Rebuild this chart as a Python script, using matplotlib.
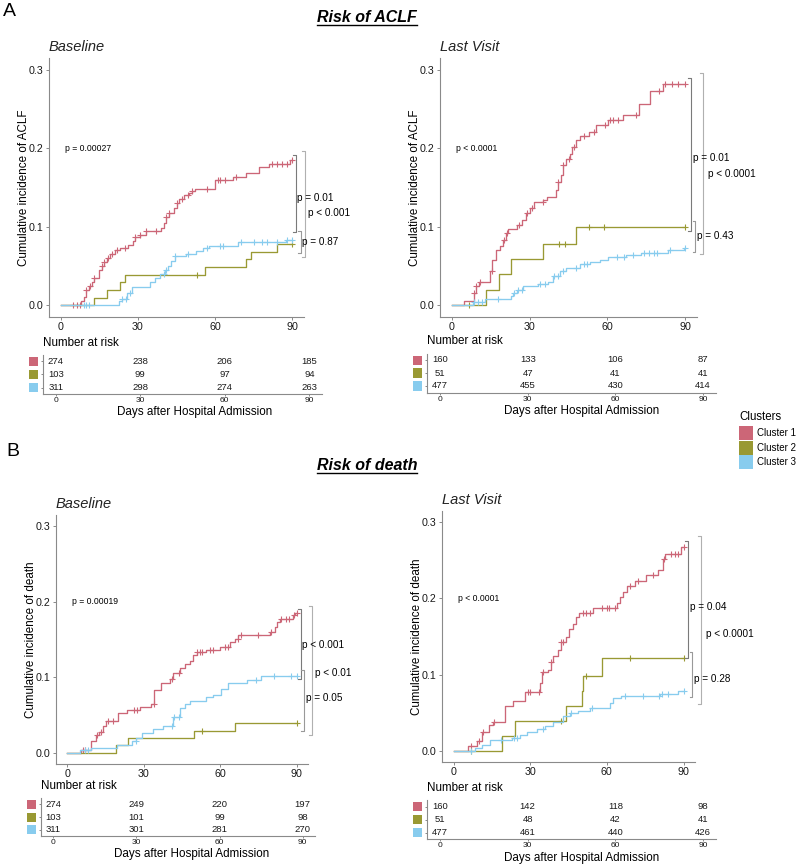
import numpy as np
import matplotlib
matplotlib.use("Agg")
import matplotlib.pyplot as plt
from matplotlib.patches import Rectangle
from matplotlib.lines import Line2D

plt.rcParams['font.family'] = ['Liberation Sans', 'DejaVu Sans']

# ----- data -----
clusters = ['Cluster 1', 'Cluster 2', 'Cluster 3']
colors = ['#CC6677', '#999933', '#88CCEE']
risk_days = [0, 30, 60, 90]

# A - ACLF, baseline
a_base_c1_t = [0, 8, 9, 10, 11, 12, 13, 15, 16, 17, 18, 19, 21, 23, 26, 28, 29, 31, 33, 39, 40, 41, 42, 44,
               45, 46, 48, 50, 51, 52, 60, 67, 72, 77, 81, 89]
a_base_c1_y = [0, 0.005, 0.01, 0.02, 0.025, 0.03, 0.035, 0.045, 0.05, 0.055, 0.06, 0.065, 0.07, 0.073, 0.077,
               0.082, 0.087, 0.09, 0.094, 0.099, 0.105, 0.112, 0.118, 0.124, 0.13, 0.135, 0.14, 0.143, 0.146,
               0.148, 0.159, 0.163, 0.168, 0.176, 0.18, 0.185]
a_base_c1_cens = [5, 6.5, 7.5, 10, 11.5, 13, 16, 17, 18.5, 20, 22, 25, 29, 31, 33, 37, 41, 42, 45, 47, 49.5, 51,
                  57, 61, 62, 64, 68, 82, 84, 86, 88, 90]
a_base_c2_t = [0, 13, 18, 23, 25, 56, 72, 74, 84]
a_base_c2_y = [0, 0.0097, 0.0194, 0.0291, 0.0388, 0.0485, 0.0583, 0.068, 0.078]
a_base_c2_cens = [53, 90]
a_base_c3_t = [0, 22.7, 24, 25.6, 27.6, 34.6, 36.6, 38.5, 40.4, 41.7, 43, 44.3, 48.8, 52.7, 55.2, 57.8, 68.8, 87.4]
a_base_c3_y = [0, 0.005, 0.008, 0.016, 0.023, 0.029, 0.035, 0.04, 0.045, 0.05, 0.056, 0.063, 0.065, 0.069,
               0.073, 0.076, 0.08, 0.083]
a_base_c3_cens = [9, 10, 11, 24, 25.5, 27, 40, 41, 44.5, 49.5, 57, 62, 63, 70, 75, 78, 80, 84, 88, 90]
a_base_risk = [[274, 238, 206, 185], [103, 99, 97, 94], [311, 298, 274, 263]]

# A - ACLF, last visit
a_last_c1_t = [0, 4.9, 8.6, 9.3, 10.6, 14.7, 15.7, 17, 18.6, 19.8, 20.9, 21.8, 25, 26.9, 28.8, 30.1, 31.7, 35.2,
               36.9, 40.3, 41, 42, 42.9, 44.2, 45.7, 46.5, 48, 49.3, 52.9, 55.7, 60.2, 65.9, 72.1, 76.4, 81.3]
a_last_c1_y = [0, 0.005, 0.016, 0.025, 0.03, 0.043, 0.058, 0.07, 0.075, 0.083, 0.092, 0.097, 0.102, 0.109,
               0.117, 0.124, 0.131, 0.134, 0.138, 0.147, 0.157, 0.166, 0.179, 0.186, 0.193, 0.202, 0.21, 0.215,
               0.221, 0.229, 0.236, 0.243, 0.257, 0.273, 0.282]
a_last_c1_cens = [8.6, 9.5, 11, 15.5, 20, 21.5, 26, 29, 31, 35, 41, 43, 45, 47, 51, 55, 59, 61, 62, 64, 71, 80,
                  82, 85, 87, 90]
a_last_c2_t = [0, 13.1, 18.2, 23, 35, 47.8]
a_last_c2_y = [0, 0.0196, 0.0392, 0.0588, 0.0784, 0.1]
a_last_c2_cens = [6.8, 41.5, 43.5, 52.8, 58.5, 90]
a_last_c3_t = [0, 8.1, 12.8, 23, 23.7, 25, 27.5, 33.3, 37.1, 39, 41.6, 44.2, 49.3, 53.1, 57, 60.2, 67.2, 73,
               83.2, 89.6]
a_last_c3_y = [0, 0.004, 0.008, 0.012, 0.016, 0.02, 0.024, 0.027, 0.03, 0.037, 0.043, 0.047, 0.052, 0.055,
               0.058, 0.062, 0.064, 0.067, 0.07, 0.073]
a_last_c3_cens = [8.5, 10, 11.5, 18, 24, 25.5, 27, 34, 36, 39.5, 41, 43, 48, 51, 52, 63.5, 66.5, 70, 74, 76, 78,
                  79, 84, 90]
a_last_risk = [[160, 133, 106, 87], [51, 47, 41, 41], [477, 455, 430, 414]]

# B - death, baseline
b_base_c1_t = [0, 5.5, 9.4, 11.1, 12.4, 13.8, 15.3, 19.9, 23.2, 28.4, 33, 34.1, 36.9, 40.2, 41.5, 44.2, 46.1,
               48.1, 49.4, 50.7, 54.6, 59.9, 63.8, 65.8, 67.1, 79.5, 81.5, 82.5, 83.5, 88.7, 89.5]
b_base_c1_y = [0, 0.003, 0.015, 0.023, 0.027, 0.036, 0.042, 0.052, 0.056, 0.061, 0.065, 0.083, 0.092, 0.098,
               0.105, 0.112, 0.117, 0.122, 0.129, 0.133, 0.136, 0.14, 0.147, 0.151, 0.156, 0.16, 0.167, 0.173,
               0.177, 0.182, 0.185]
b_base_c1_cens = [6, 7, 11.5, 13, 16, 18, 26, 27.5, 34, 41, 44, 51, 52, 53, 56, 57, 62, 63, 67, 68, 75, 80, 84,
                  86, 87, 89, 90]
b_base_c2_t = [0, 18.9, 23.8, 49.8, 66]
b_base_c2_y = [0, 0.0097, 0.0194, 0.0291, 0.0388]
b_base_c2_cens = [53, 90]
b_base_c3_t = [0, 4.8, 9.4, 19.3, 25.2, 27.1, 29.1, 33.7, 37.6, 41.5, 44.2, 46.1, 48.1, 54.6, 57.3, 60.5, 63.1,
               70.4, 76.2]
b_base_c3_y = [0, 0.003, 0.006, 0.01, 0.016, 0.019, 0.026, 0.031, 0.036, 0.047, 0.059, 0.064, 0.068, 0.074,
               0.077, 0.084, 0.092, 0.096, 0.101]
b_base_c3_cens = [7, 8, 27, 41, 42, 44, 74, 81, 88, 90]
b_base_risk = [[274, 249, 220, 197], [103, 101, 99, 98], [311, 301, 281, 270]]

# B - death, last visit
b_last_c1_t = [0, 5.7, 9.3, 11.3, 14, 15.3, 20.1, 23.1, 27.9, 33.8, 34.7, 37, 38, 39, 41, 42, 44.2, 45.1, 46.8,
               48.1, 49.2, 54.7, 63.8, 65.1, 66.4, 67.7, 71, 75.5, 80.1, 82, 82.7, 89.2]
b_last_c1_y = [0, 0.0066, 0.012, 0.025, 0.033, 0.038, 0.058, 0.065, 0.077, 0.089, 0.103, 0.106, 0.117, 0.124,
               0.132, 0.143, 0.15, 0.16, 0.166, 0.175, 0.181, 0.188, 0.194, 0.202, 0.209, 0.216, 0.223, 0.231,
               0.237, 0.252, 0.259, 0.268]
b_last_c1_cens = [7, 10, 11.5, 16, 29, 30, 33.5, 35, 38, 42, 43, 50.5, 52, 53.5, 58, 60, 61, 63, 69, 72, 78,
                  82.5, 85, 86.5, 88, 90]
b_last_c2_t = [0, 19, 24, 44.2, 50.1, 50.7, 58.2]
b_last_c2_y = [0, 0.0196, 0.0392, 0.0588, 0.0784, 0.098, 0.1216]
b_last_c2_cens = [6.8, 42, 51.7, 69, 90]
b_last_c3_t = [0, 8.3, 11, 14.2, 22.7, 26, 28.6, 32.5, 35.7, 39, 42.9, 45.5, 48.8, 53.3, 61.2, 62.5, 65.7,
               80.7, 87.9]
b_last_c3_y = [0, 0.0035, 0.008, 0.014, 0.017, 0.021, 0.024, 0.028, 0.032, 0.038, 0.045, 0.049, 0.052, 0.056,
               0.063, 0.069, 0.072, 0.075, 0.078]
b_last_c3_cens = [7, 18.5, 23.5, 25, 35, 46, 54, 67, 74, 80.5, 81.5, 84, 90]
b_last_risk = [[160, 142, 118, 98], [51, 48, 42, 41], [477, 461, 440, 426]]

# ----- figure, laid out in pixels -----
W, H = 798, 865
fig = plt.figure(figsize=(W / 100, H / 100), dpi=100)
AXIS_GREY = '#8a8a8a'


def px_rect(l, t, r, b):
    return [l / W, 1 - b / H, (r - l) / W, (b - t) / H]


def fig_text(x, y, s, **kw):
    return fig.text(x / W, 1 - y / H, s, **kw)


def style_axis(ax, tick_len=2.2, tick_pad=1.5):
    for side in ['top', 'right']:
        ax.spines[side].set_visible(False)
    for side in ['left', 'bottom']:
        ax.spines[side].set_color(AXIS_GREY)
        ax.spines[side].set_linewidth(0.8)
    ax.tick_params(color=AXIS_GREY, length=tick_len, width=0.7, pad=tick_pad, labelcolor='#1a1a1a')


def draw_panel(box, curves, pval, brackets, ylabel, subtitle):
    l, t, r, b = box
    ax = fig.add_axes(px_rect(l, t, r, b))
    for (times, vals, cens), col in zip(curves, colors):
        tt = np.append(times, 90)
        vv = np.append(vals, vals[-1])
        ax.step(tt, vv, where='post', color=col, lw=0.95)
        idx = np.searchsorted(tt, cens, side='right') - 1
        ax.plot(cens, vv[idx], ls='none', marker='+', ms=4.8, mew=0.8, color=col)
    ax.set_xlim(-4.5, 94.5)
    ax.set_ylim(-0.015, 0.315)
    ax.set_xticks([0, 30, 60, 90])
    ax.set_yticks([0, 0.1, 0.2, 0.3])
    ax.set_yticklabels(['0.0', '0.1', '0.2', '0.3'])
    ax.tick_params(labelsize=7.7)
    style_axis(ax)
    ax.set_ylabel(ylabel, fontsize=8.4)
    ax.yaxis.set_label_coords(-19 / (r - l), 0.5)
    ax.text(pval[0], pval[1], pval[2], fontsize=6.2, ha='left', va='center')
    for bx, y0, y1, lab, lx, ly, col in brackets:
        ax.plot([bx - 1.1, bx, bx, bx - 1.1], [y0, y0, y1, y1], color=col, lw=0.8, clip_on=False)
        ax.text(lx, ly, lab, fontsize=7.2, ha='left', va='center', clip_on=False)
    fig_text(l, t - 11, subtitle, fontsize=10.5, style='italic', color='#222222', ha='left', va='center')
    return ax


def draw_table(box, counts, days_x):
    l, t, r, b = box
    tab = fig.add_axes(px_rect(l, t, r, b))
    for row, (vals, col) in enumerate(zip(counts, colors)):
        yy = 3 - row
        for d, n in zip(risk_days, vals):
            tab.text(d, yy, str(n), ha='center', va='center', fontsize=6.8, color='#1a1a1a')
        ypx = t + (3.5 - yy) / 3 * (b - t)
        fig.add_artist(Rectangle(((l - 14) / W, 1 - (ypx + 4.5) / H), 9 / W, 9 / H,
                                 transform=fig.transFigure, facecolor=col, edgecolor='none'))
    tab.set_xlim(-4.5, 94.5)
    tab.set_ylim(0.5, 3.5)
    tab.set_xticks(risk_days)
    tab.set_yticks([3, 2, 1])
    tab.set_yticklabels([])
    style_axis(tab, tick_len=1.6, tick_pad=0.8)
    tab.tick_params(labelsize=6.0)
    fig_text(l, t - 12, 'Number at risk', fontsize=8.4, ha='left', va='center')
    fig_text(days_x, b + 18.5, 'Days after Hospital Admission', fontsize=8.4, ha='center', va='center')


BR_DARK, BR_MID, BR_LIGHT = '#7a7a7a', '#999999', '#b0b0b0'

# A baseline
draw_panel((49, 58, 304, 317),
           [(a_base_c1_t, a_base_c1_y, a_base_c1_cens), (a_base_c2_t, a_base_c2_y, a_base_c2_cens),
            (a_base_c3_t, a_base_c3_y, a_base_c3_cens)],
           (1.8, 0.2, 'p = 0.00027'),
           [(91.3, 0.192, 0.093, 'p = 0.01', 91.8, 0.137, BR_DARK),
            (94.9, 0.197, 0.062, 'p < 0.001', 96.0, 0.117, BR_LIGHT),
            (93.2, 0.095, 0.066, 'p = 0.87', 93.7, 0.081, BR_MID)],
           'Cumulative incidence of ACLF', 'Baseline')
draw_table((43, 355, 322, 394), a_base_risk, 195)

# A last visit
draw_panel((440, 58, 697, 317),
           [(a_last_c1_t, a_last_c1_y, a_last_c1_cens), (a_last_c2_t, a_last_c2_y, a_last_c2_cens),
            (a_last_c3_t, a_last_c3_y, a_last_c3_cens)],
           (1.6, 0.2, 'p < 0.0001'),
           [(92.2, 0.289, 0.095, 'p = 0.01', 92.8, 0.187, BR_DARK),
            (96.9, 0.296, 0.065, 'p < 0.0001', 98.6, 0.167, BR_LIGHT),
            (93.9, 0.107, 0.068, 'p = 0.43', 94.5, 0.088, BR_MID)],
           'Cumulative incidence of ACLF', 'Last Visit')
draw_table((427, 353.5, 716, 392.5), a_last_risk, 582)

# B baseline
draw_panel((56, 515, 308, 764),
           [(b_base_c1_t, b_base_c1_y, b_base_c1_cens), (b_base_c2_t, b_base_c2_y, b_base_c2_cens),
            (b_base_c3_t, b_base_c3_y, b_base_c3_cens)],
           (1.6, 0.2, 'p = 0.00019'),
           [(91.7, 0.19, 0.098, 'p < 0.001', 92.2, 0.143, BR_DARK),
            (96.1, 0.194, 0.024, 'p < 0.01', 97.2, 0.106, BR_LIGHT),
            (92.9, 0.110, 0.029, 'p = 0.05', 93.6, 0.073, BR_MID)],
           'Cumulative incidence of death', 'Baseline')
draw_table((41, 798, 315, 836), b_base_risk, 192)

# B last visit
draw_panel((442, 511, 695, 762),
           [(b_last_c1_t, b_last_c1_y, b_last_c1_cens), (b_last_c2_t, b_last_c2_y, b_last_c2_cens),
            (b_last_c3_t, b_last_c3_y, b_last_c3_cens)],
           (1.8, 0.2, 'p < 0.0001'),
           [(91.8, 0.275, 0.122, 'p = 0.04', 92.4, 0.189, BR_DARK),
            (96.8, 0.282, 0.061, 'p < 0.0001', 98.7, 0.153, BR_LIGHT),
            (93.5, 0.129, 0.070, 'p = 0.28', 94.1, 0.094, BR_MID)],
           'Cumulative incidence of death', 'Last Visit')
draw_table((427, 800, 716, 839), b_last_risk, 582)

# panel letters and underlined titles
fig_text(3, 12, 'A', fontsize=14, ha='left', va='center')
fig_text(6, 452, 'B', fontsize=14, ha='left', va='center')
titles = [fig_text(367, 18, 'Risk of ACLF', fontsize=11.5, weight='bold', style='italic', ha='center', va='center'),
          fig_text(367, 466, 'Risk of death', fontsize=11.5, weight='bold', style='italic', ha='center', va='center')]
fig.canvas.draw()
renderer = fig.canvas.get_renderer()
for t in titles:
    bb = t.get_window_extent(renderer).transformed(fig.transFigure.inverted())
    fig.add_artist(Line2D([bb.x0, bb.x1], [bb.y0 + 0.001, bb.y0 + 0.001], transform=fig.transFigure,
                          color='black', lw=1.0))

# legend
fig_text(739, 417, 'Clusters', fontsize=8.3, ha='left', va='center')
for i, (name, col) in enumerate(zip(clusters, colors)):
    yc = 433.3 + i * 14.5
    fig.add_artist(Rectangle((739 / W, 1 - (yc + 7) / H), 13.5 / W, 14 / H, transform=fig.transFigure,
                             facecolor=col, edgecolor='none'))
    fig_text(757, yc, name, fontsize=7, ha='left', va='center')

fig.savefig('out.png', dpi=100)
